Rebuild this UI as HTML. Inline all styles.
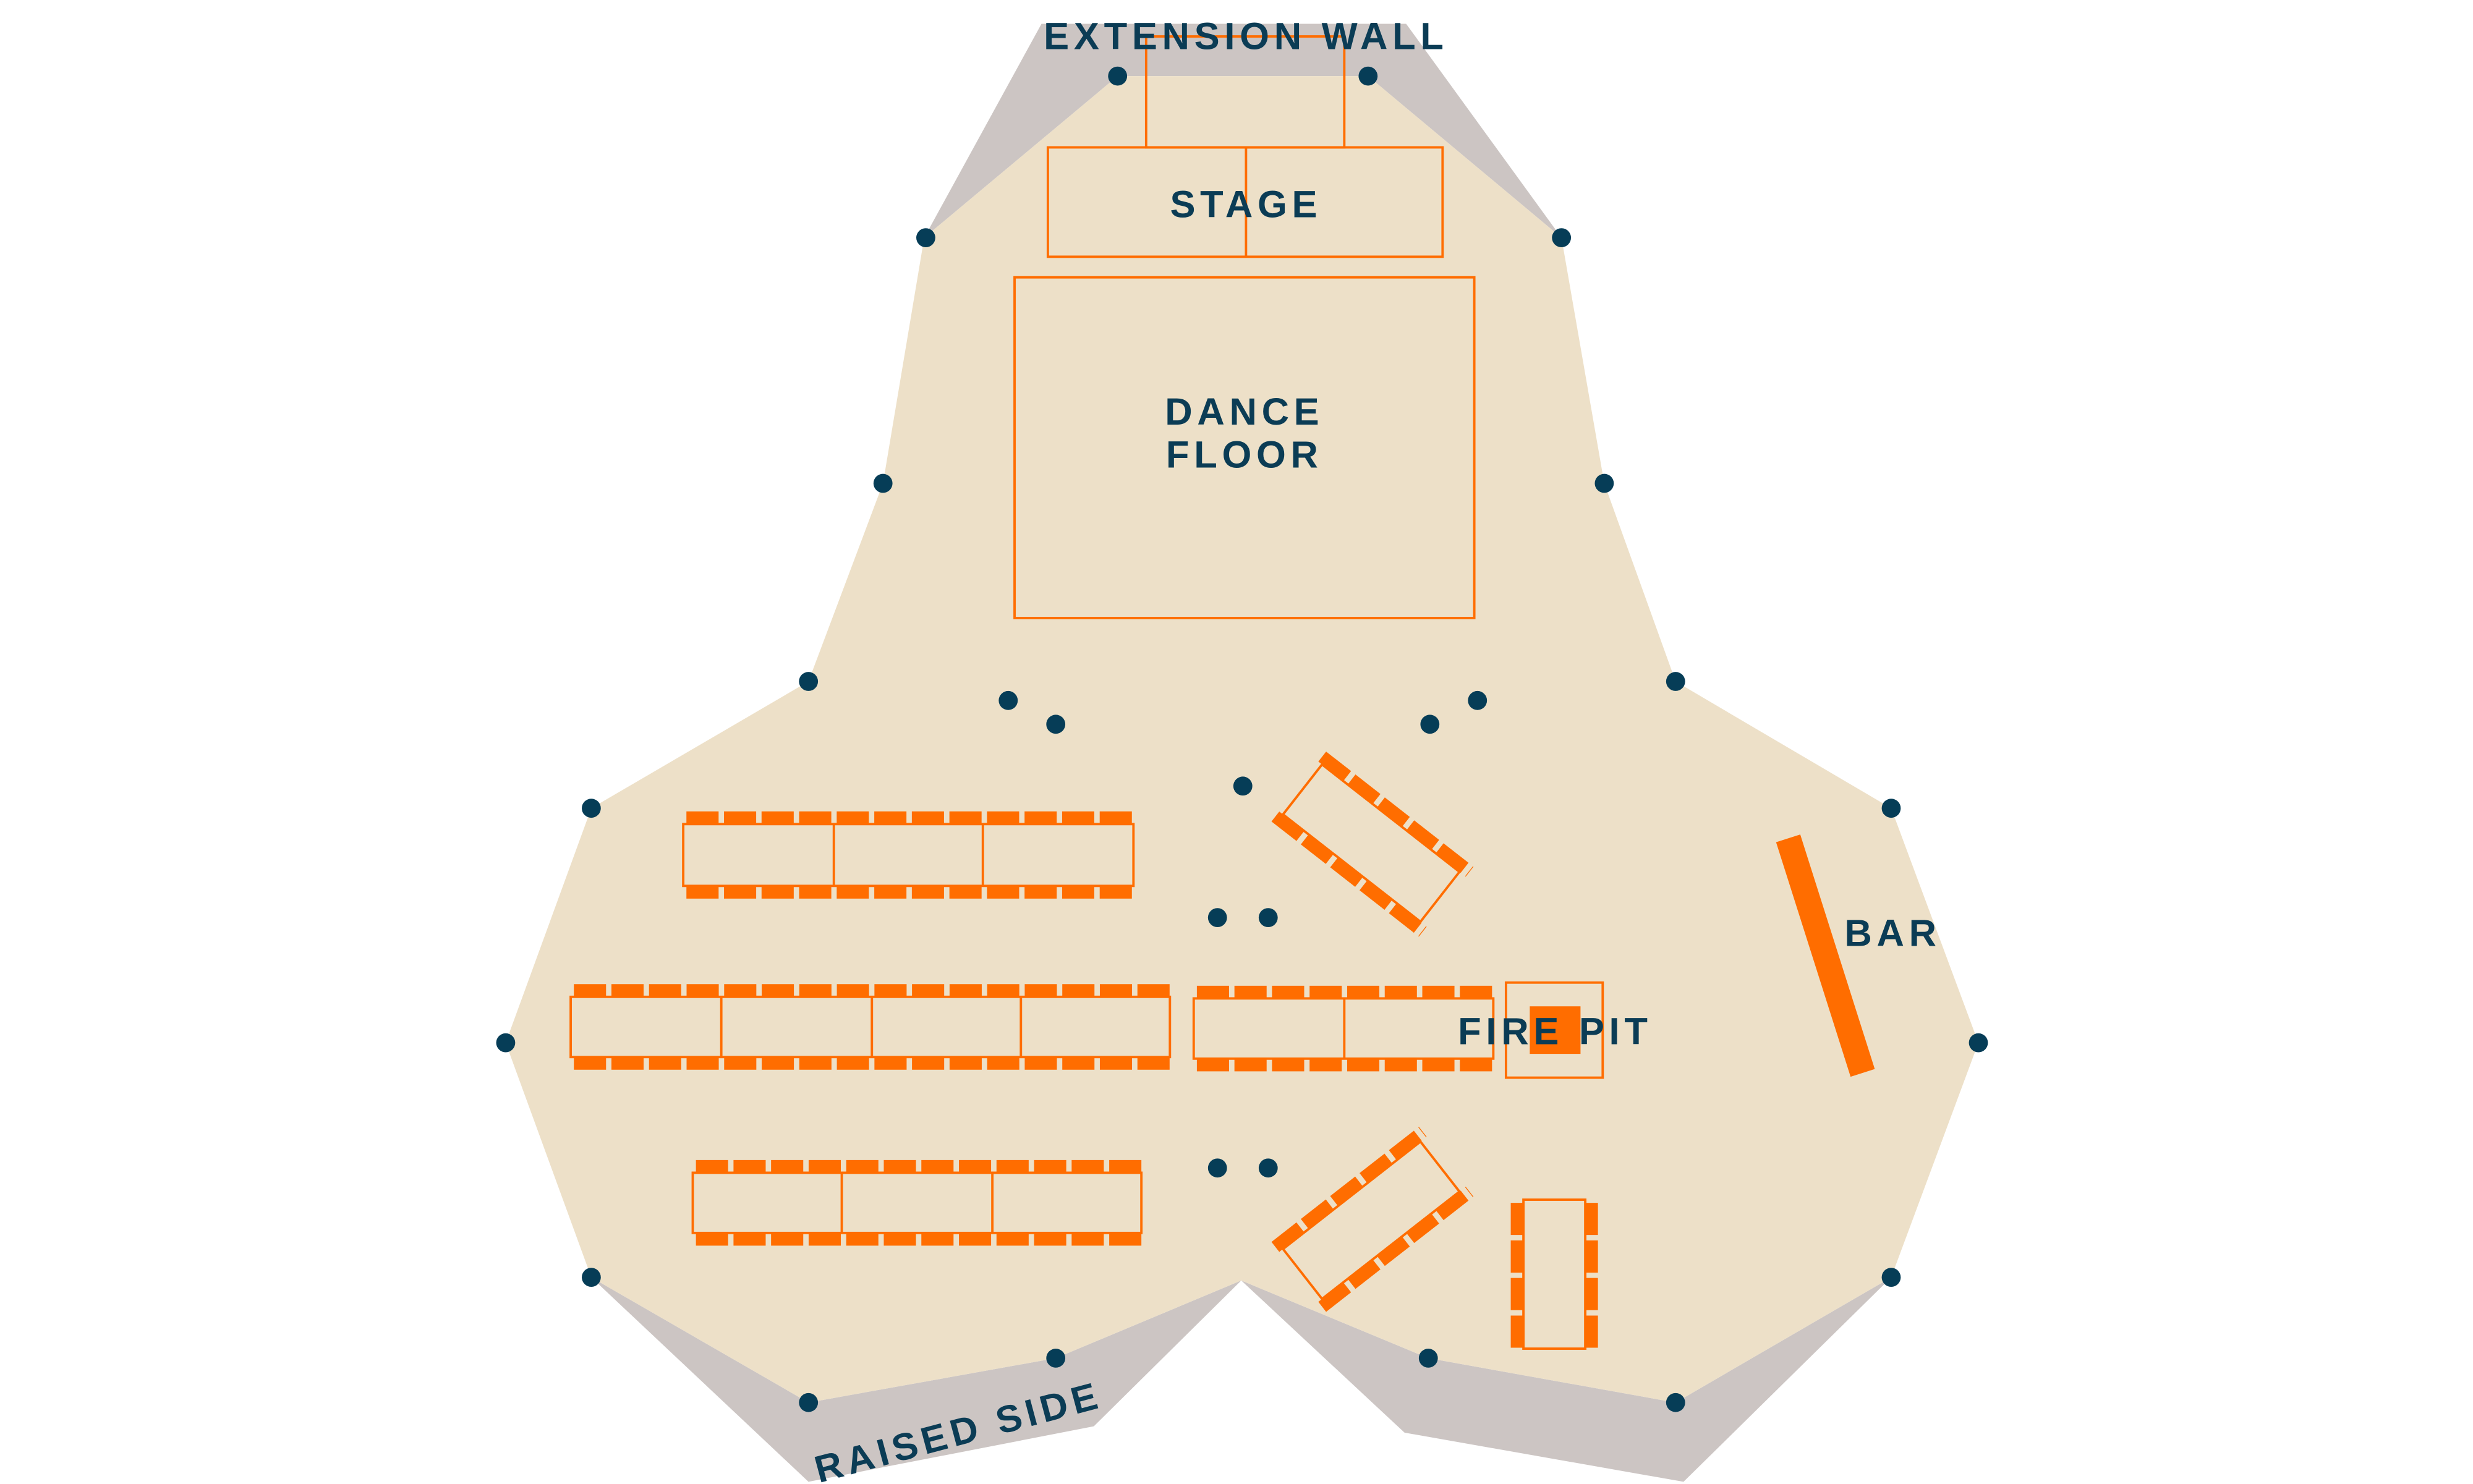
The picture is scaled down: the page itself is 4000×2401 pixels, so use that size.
<!DOCTYPE html>
<html><head><meta charset="utf-8"><style>
html,body{margin:0;padding:0;background:#fff}
svg{display:block}
text{font-family:"Liberation Sans",sans-serif;font-weight:bold;fill:#0b3c55;letter-spacing:3px}
</style></head><body>
<svg width="4000" height="2401" viewBox="0 0 1560 936.4" preserveAspectRatio="none" xmlns="http://www.w3.org/2000/svg">
<g fill="#ccc5c3">
<polygon points="657,15 887,15 985,150 863,48 705,48 583,150"/>
<polygon points="373,806 510,935 690,900 783,808 666,857 510,885"/>
<polygon points="783,808 886,904 1062,935 1193,806 1057,885 901,857"/>
</g>
<polygon fill="#ede0c8" points="705,48 863,48 985,150 1012,305 1057,430 1193,510 1248,658 1193,806 1057,885 901,857 783,808 666,857 510,885 373,806 319,658 373,510 510,430 557,305 583,150"/>
<g fill="none" stroke="#ff6d00" stroke-width="1.5">
<rect x="723" y="23" width="125" height="70"/>
<rect x="661" y="93" width="249" height="69"/>
<line x1="786" y1="93" x2="786" y2="162"/>
<rect x="640" y="175" width="290" height="215"/>
<rect x="431" y="520" width="284" height="39"/>
<line x1="526" y1="520" x2="526" y2="559"/><line x1="620" y1="520" x2="620" y2="559"/>
<rect x="360" y="629" width="378" height="38"/>
<line x1="455" y1="629" x2="455" y2="667"/><line x1="550" y1="629" x2="550" y2="667"/><line x1="644" y1="629" x2="644" y2="667"/>
<rect x="753" y="630" width="189" height="38"/>
<line x1="848" y1="630" x2="848" y2="668"/>
<rect x="437" y="740" width="283" height="38"/>
<line x1="531" y1="740" x2="531" y2="778"/><line x1="626" y1="740" x2="626" y2="778"/>
<rect x="950" y="620" width="61" height="60"/>
<rect x="961" y="757" width="39" height="94"/>
</g>
<g stroke="#ff6d00" stroke-width="8" stroke-dasharray="20.3 3.4">
<line x1="433" y1="516" x2="717" y2="516"/><line x1="433" y1="563" x2="717" y2="563"/>
<line x1="362" y1="625" x2="740" y2="625"/><line x1="362" y1="671" x2="740" y2="671"/>
<line x1="755" y1="626" x2="944" y2="626"/><line x1="755" y1="672" x2="944" y2="672"/>
<line x1="439" y1="736" x2="722" y2="736"/><line x1="439" y1="782" x2="722" y2="782"/>
<line x1="957" y1="759" x2="957" y2="853"/><line x1="1004" y1="759" x2="1004" y2="853"/>
</g>
<g transform="translate(865,532) rotate(38)">
<rect x="-55" y="-20" width="110" height="40" fill="none" stroke="#ff6d00" stroke-width="1.5"/>
<line x1="-58" y1="-24" x2="60" y2="-24" stroke="#ff6d00" stroke-width="8" stroke-dasharray="20 3.5"/>
<line x1="-58" y1="24" x2="60" y2="24" stroke="#ff6d00" stroke-width="8" stroke-dasharray="20 3.5"/>
</g>
<g transform="translate(865,770) rotate(-38)">
<rect x="-55" y="-20" width="110" height="40" fill="none" stroke="#ff6d00" stroke-width="1.5"/>
<line x1="-58" y1="-24" x2="60" y2="-24" stroke="#ff6d00" stroke-width="8" stroke-dasharray="20 3.5"/>
<line x1="-58" y1="24" x2="60" y2="24" stroke="#ff6d00" stroke-width="8" stroke-dasharray="20 3.5"/>
</g>
<rect x="965" y="635" width="32" height="30" fill="#ff6d00"/>
<line x1="1128" y1="529" x2="1175" y2="677" stroke="#ff6d00" stroke-width="16"/>
<g fill="#063d57">
<circle cx="705" cy="48" r="6"/><circle cx="863" cy="48" r="6"/><circle cx="985" cy="150" r="6"/><circle cx="1012" cy="305" r="6"/>
<circle cx="1057" cy="430" r="6"/><circle cx="1193" cy="510" r="6"/><circle cx="1248" cy="658" r="6"/><circle cx="1193" cy="806" r="6"/>
<circle cx="1057" cy="885" r="6"/><circle cx="901" cy="857" r="6"/><circle cx="666" cy="857" r="6"/><circle cx="510" cy="885" r="6"/>
<circle cx="373" cy="806" r="6"/><circle cx="319" cy="658" r="6"/><circle cx="373" cy="510" r="6"/><circle cx="510" cy="430" r="6"/>
<circle cx="557" cy="305" r="6"/><circle cx="584" cy="150" r="6"/>
<circle cx="636" cy="442" r="6"/><circle cx="666" cy="457" r="6"/><circle cx="902" cy="457" r="6"/><circle cx="932" cy="442" r="6"/>
<circle cx="784" cy="496" r="6"/><circle cx="768" cy="579" r="6"/><circle cx="800" cy="579" r="6"/><circle cx="768" cy="737" r="6"/><circle cx="800" cy="737" r="6"/>
</g>
<g font-size="24" text-anchor="middle">
<text x="786" y="31">EXTENSION WALL</text>
<text x="786" y="137">STAGE</text>
<text x="785" y="268">DANCE</text>
<text x="785" y="295">FLOOR</text>
<text x="1194" y="597">BAR</text>
<text x="981" y="659">FIRE PIT</text>
<text x="604" y="912" transform="rotate(-15 604 902)">RAISED SIDE</text>
</g>
</svg>
</body></html>
